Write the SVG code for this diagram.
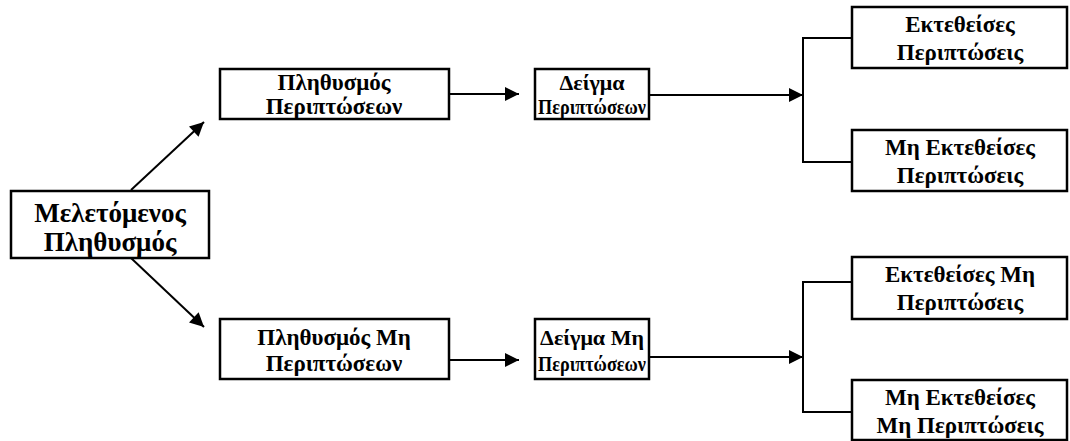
<svg xmlns="http://www.w3.org/2000/svg" width="1070" height="441" viewBox="0 0 1070 441">
  <style>
    .box { fill: #fff; stroke: #000; stroke-width: 2.5; }
    .lbl { font-family: "Liberation Serif", "Times New Roman", serif; font-weight: bold; font-size: 23px; text-anchor: middle; fill: #000; }
    .big { font-size: 27px; }
    .smp { font-size: 22px; }
    .con { fill: none; stroke: #000; stroke-width: 2; }
  </style>
  <defs>
    <marker id="arrowBig" viewBox="0 0 10 10" refX="10" refY="5" markerWidth="18" markerHeight="14" markerUnits="userSpaceOnUse" orient="auto">
      <path d="M0,0 L10,5 L0,10 z" fill="#000"/>
    </marker>
  </defs>

  <!-- connectors -->
  <g id="connectors">
    <line class="con" x1="131" y1="190" x2="204" y2="122" marker-end="url(#arrowBig)"/>
    <line class="con" x1="131" y1="258" x2="204" y2="327" marker-end="url(#arrowBig)"/>
    <line class="con" x1="432" y1="94" x2="519" y2="94" marker-end="url(#arrowBig)"/>
    <line class="con" x1="432" y1="360" x2="519" y2="360" marker-end="url(#arrowBig)"/>
    <line class="con" x1="649" y1="95" x2="803" y2="95" marker-end="url(#arrowBig)"/>
    <line class="con" x1="649" y1="357" x2="803" y2="357" marker-end="url(#arrowBig)"/>
    <polyline class="con" points="859,38 803,38 803,162 859,162"/>
    <polyline class="con" points="859,282 803,282 803,412 859,412"/>
  </g>

  <!-- Studied population -->
  <g id="node-population">
    <rect class="box" x="11" y="191" width="198" height="67"/>
    <text class="lbl big" x="110" y="222">Μελετόμενος</text>
    <text class="lbl big" x="110" y="251">Πληθυσμός</text>
  </g>

  <!-- Case population / sample -->
  <g id="node-case-population">
    <rect class="box" x="220" y="69" width="229" height="50"/>
    <text class="lbl" x="334" y="90">Πληθυσμός</text>
    <text class="lbl" x="334" y="114">Περιπτώσεων</text>
  </g>
  <g id="node-case-sample">
    <rect class="box" x="535" y="69" width="114" height="50"/>
    <text class="lbl smp" x="592" y="90">Δείγμα</text>
    <text class="lbl smp" x="592" y="114" textLength="108" lengthAdjust="spacingAndGlyphs">Περιπτώσεων</text>
  </g>

  <!-- Non-case population / sample -->
  <g id="node-control-population">
    <rect class="box" x="220" y="319" width="229" height="60"/>
    <text class="lbl" x="334" y="345">Πληθυσμός Μη</text>
    <text class="lbl" x="334" y="371">Περιπτώσεων</text>
  </g>
  <g id="node-control-sample">
    <rect class="box" x="535" y="319" width="114" height="60"/>
    <text class="lbl smp" x="592" y="345">Δείγμα Μη</text>
    <text class="lbl smp" x="592" y="371" textLength="108" lengthAdjust="spacingAndGlyphs">Περιπτώσεων</text>
  </g>

  <!-- Exposure groups -->
  <g id="node-exposed-cases">
    <rect class="box" x="852" y="7" width="215" height="61"/>
    <text class="lbl" x="960" y="32">Εκτεθείσες</text>
    <text class="lbl" x="960" y="60">Περιπτώσεις</text>
  </g>
  <g id="node-unexposed-cases">
    <rect class="box" x="852" y="130" width="215" height="61"/>
    <text class="lbl" x="960" y="155">Μη Εκτεθείσες</text>
    <text class="lbl" x="960" y="183">Περιπτώσεις</text>
  </g>
  <g id="node-exposed-controls">
    <rect class="box" x="852" y="257" width="215" height="62"/>
    <text class="lbl" x="960" y="282">Εκτεθείσες Μη</text>
    <text class="lbl" x="960" y="310">Περιπτώσεις</text>
  </g>
  <g id="node-unexposed-controls">
    <rect class="box" x="852" y="380" width="215" height="60"/>
    <text class="lbl" x="960" y="405">Μη Εκτεθείσες</text>
    <text class="lbl" x="960" y="433">Μη Περιπτώσεις</text>
  </g>
</svg>
